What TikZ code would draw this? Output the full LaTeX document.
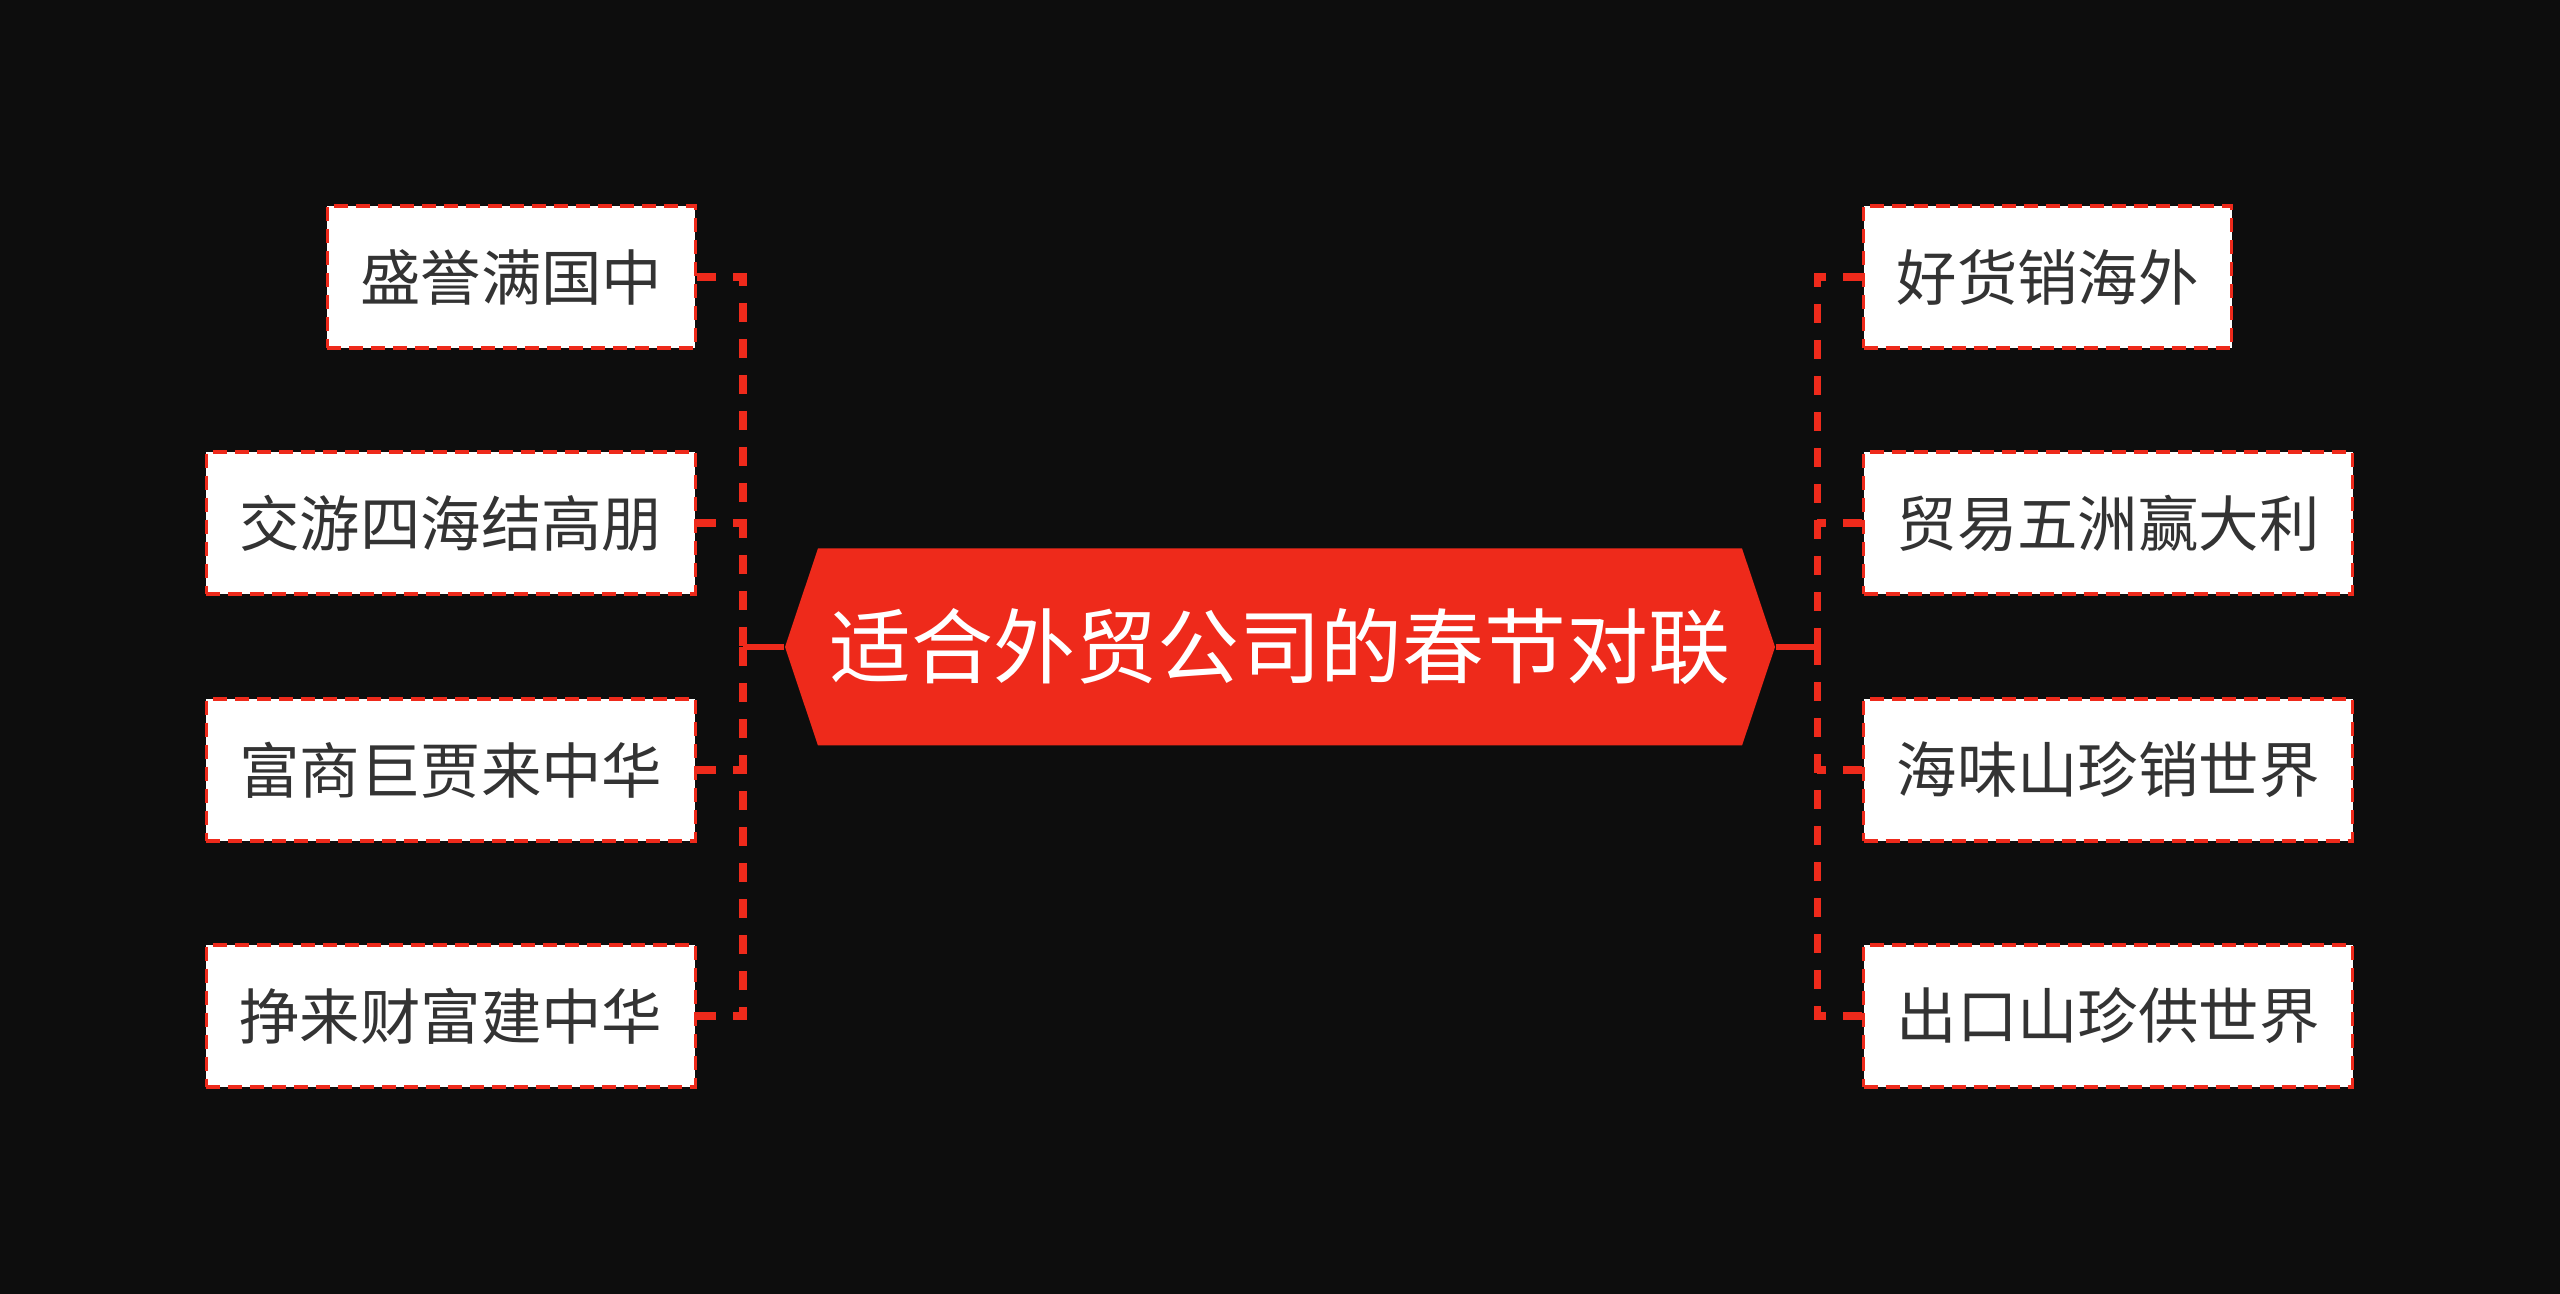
\documentclass[tikz,border=0pt]{standalone}
\usepackage{fontspec}
\setmainfont{Noto Sans CJK SC}
\usetikzlibrary{shapes.symbols, positioning}
\definecolor{bgdark}{HTML}{0D0D0D}
\definecolor{festred}{HTML}{EE2A1B}
\definecolor{textgray}{HTML}{333333}

\begin{document}
\begin{tikzpicture}[
    leaf/.style={
        draw=festred,
        fill=white,
        dash pattern=on 0.14cm off 0.08cm,
        line width=0.9pt,
        minimum height=1.42cm,
        inner xsep=0.33cm,
        text=textgray,
        font=\fontsize{17.2pt}{20pt}\selectfont
    },
    link/.style={
        draw=festred,
        line width=2pt,
        dash pattern=on 0.19cm off 0.17cm
    },
    stem/.style={
        draw=festred,
        line width=1.8pt
    }
]
    % background
    \fill[bgdark] (0,0) rectangle (25.6,-12.94);
    \useasboundingbox (0,0) rectangle (25.6,-12.94);

    % root
    \node[
        signal,
        signal to=west and east,
        signal pointer angle=143,
        fill=festred,
        minimum width=9.9cm,
        minimum height=1.97cm,
        inner sep=0pt,
        text=white,
        font=\fontsize{23.3pt}{26pt}\selectfont
    ] (root) at (12.8,-6.47) {适合外贸公司的春节对联};

    \coordinate (ljoin) at (7.43,-6.47);
    \coordinate (rjoin) at (18.17,-6.47);

    % left couplets
    \node[leaf, anchor=east] (l1) at (6.97,-2.77) {盛誉满国中};
    \node[leaf, anchor=east] (l2) at (6.97,-5.23) {交游四海结高朋};
    \node[leaf, anchor=east] (l3) at (6.97,-7.70) {富商巨贾来中华};
    \node[leaf, anchor=east] (l4) at (6.97,-10.16) {挣来财富建中华};

    % right couplets
    \node[leaf, anchor=west] (r1) at (18.62,-2.77) {好货销海外};
    \node[leaf, anchor=west] (r2) at (18.62,-5.23) {贸易五洲赢大利};
    \node[leaf, anchor=west] (r3) at (18.62,-7.70) {海味山珍销世界};
    \node[leaf, anchor=west] (r4) at (18.62,-10.16) {出口山珍供世界};

    % connectors
    \draw[stem] (root.west) -- (ljoin);
    \draw[stem] (root.east) -- (rjoin);
    \draw[link] (l1.east) -| (ljoin);
    \draw[link] (l4.east) -| (ljoin);
    \draw[link] (l2.east) -- (l2.east -| ljoin);
    \draw[link] (l3.east) -- (l3.east -| ljoin);
    \draw[link] (r1.west) -| (rjoin);
    \draw[link] (r4.west) -| (rjoin);
    \draw[link] (r2.west) -- (r2.west -| rjoin);
    \draw[link] (r3.west) -- (r3.west -| rjoin);
\end{tikzpicture}
\end{document}
